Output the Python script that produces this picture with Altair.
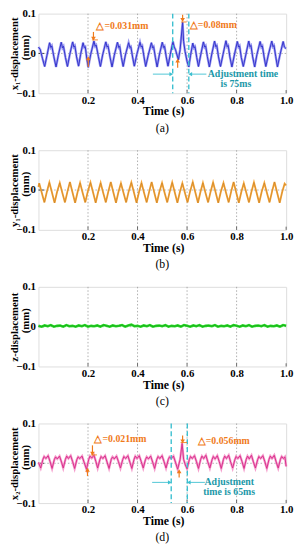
import altair as alt
import pandas as pd

FONT = "Liberation Serif"

# ---------------- data ----------------
x_ticks = [0.2, 0.4, 0.6, 0.8, 1.0]
y_ticks = [-0.1, 0.0, 0.1]
grid_x = [0.2, 0.4, 0.6, 0.8]

# (a) x1-displacement
t_a = [0.000, 0.007, 0.016, 0.025,
       0.034, 0.045, 0.050, 0.054, 0.062, 0.071,
       0.080, 0.092, 0.097, 0.101, 0.109, 0.117,
       0.126, 0.138, 0.143, 0.147, 0.154, 0.162,
       0.170, 0.180, 0.185, 0.189, 0.195, 0.201,
       0.211, 0.224, 0.229, 0.233, 0.242, 0.250,
       0.259, 0.272, 0.277, 0.281, 0.289, 0.297,
       0.306, 0.319, 0.324, 0.328, 0.335, 0.342,
       0.351, 0.364, 0.369, 0.373, 0.380, 0.387,
       0.397, 0.410, 0.415, 0.419, 0.426, 0.433,
       0.443, 0.456, 0.461, 0.465, 0.472, 0.479,
       0.488, 0.500, 0.505, 0.509, 0.516, 0.523,
       0.532, 0.543, 0.548, 0.553, 0.565,
       0.572, 0.582, 0.586, 0.592, 0.600, 0.607,
       0.614, 0.623, 0.628, 0.632, 0.639, 0.646,
       0.655, 0.666, 0.671, 0.675, 0.682, 0.690,
       0.699, 0.711, 0.716, 0.720, 0.727, 0.735,
       0.745, 0.757, 0.762, 0.766, 0.773, 0.781,
       0.791, 0.803, 0.808, 0.812, 0.819, 0.827,
       0.837, 0.849, 0.854, 0.858, 0.865, 0.873,
       0.882, 0.895, 0.900, 0.904, 0.911, 0.918,
       0.928, 0.942, 0.947, 0.951, 0.958, 0.965,
       0.975, 0.988, 0.993, 1.000]
x1_a = [0.016, 0.010, -0.012, -0.033,
        -0.006, 0.027, 0.015, 0.019, -0.008, -0.034,
        -0.005, 0.028, 0.014, 0.018, -0.010, -0.033,
        -0.004, 0.029, 0.016, 0.019, -0.009, -0.032,
        -0.003, 0.027, 0.015, 0.017, -0.012, -0.035,
        -0.002, 0.031, 0.018, 0.021, -0.008, -0.033,
        -0.004, 0.029, 0.016, 0.019, -0.009, -0.034,
        -0.005, 0.028, 0.015, 0.018, -0.010, -0.033,
        -0.004, 0.027, 0.015, 0.017, -0.009, -0.032,
        -0.003, 0.028, 0.016, 0.019, -0.008, -0.033,
        -0.005, 0.027, 0.014, 0.017, -0.010, -0.034,
        -0.004, 0.028, 0.015, 0.018, -0.009, -0.032,
        -0.003, 0.030, 0.016, 0.010, -0.016,
        0.010, 0.078, 0.030, 0.005, -0.020, -0.034,
        -0.005, 0.026, 0.014, 0.017, -0.010, -0.033,
        -0.004, 0.029, 0.016, 0.019, -0.008, -0.034,
        -0.004, 0.031, 0.017, 0.020, -0.009, -0.033,
        -0.003, 0.032, 0.017, 0.020, -0.009, -0.034,
        -0.004, 0.030, 0.016, 0.019, -0.010, -0.033,
        -0.004, 0.031, 0.017, 0.020, -0.009, -0.034,
        -0.003, 0.030, 0.016, 0.019, -0.009, -0.033,
        -0.004, 0.031, 0.017, 0.020, -0.008, -0.034,
        -0.004, 0.030, 0.016, 0.012]

# (b) y1-displacement
t_b = [0.000,
       0.003, 0.013, 0.024, 0.034,
       0.044, 0.054, 0.065, 0.075,
       0.086, 0.096, 0.107, 0.117,
       0.127, 0.137, 0.148, 0.158,
       0.168, 0.178, 0.189, 0.199,
       0.210, 0.220, 0.231, 0.241,
       0.251, 0.261, 0.272, 0.282,
       0.292, 0.302, 0.313, 0.323,
       0.333, 0.343, 0.354, 0.364,
       0.375, 0.385, 0.396, 0.406,
       0.416, 0.426, 0.437, 0.447,
       0.457, 0.467, 0.478, 0.488,
       0.499, 0.509, 0.520, 0.530,
       0.540, 0.550, 0.561, 0.571,
       0.581, 0.591, 0.602, 0.612,
       0.623, 0.633, 0.644, 0.654,
       0.664, 0.674, 0.685, 0.695,
       0.705, 0.715, 0.726, 0.736,
       0.747, 0.757, 0.768, 0.778,
       0.788, 0.798, 0.809, 0.819,
       0.829, 0.839, 0.850, 0.860,
       0.870, 0.880, 0.891, 0.901,
       0.912, 0.922, 0.933, 0.943,
       0.953, 0.963, 0.974, 0.984,
       0.994, 1.000]
y1_b = [0.008,
        0.017, -0.006, -0.031, -0.004,
        0.019, -0.005, -0.032, -0.005,
        0.018, -0.006, -0.031, -0.004,
        0.020, -0.005, -0.032, -0.005,
        0.018, -0.006, -0.031, -0.004,
        0.019, -0.005, -0.032, -0.005,
        0.018, -0.006, -0.031, -0.004,
        0.020, -0.005, -0.032, -0.005,
        0.017, -0.006, -0.031, -0.004,
        0.019, -0.005, -0.032, -0.005,
        0.018, -0.006, -0.031, -0.004,
        0.020, -0.005, -0.032, -0.005,
        0.018, -0.006, -0.031, -0.004,
        0.019, -0.005, -0.032, -0.005,
        0.017, -0.006, -0.031, -0.004,
        0.020, -0.005, -0.032, -0.005,
        0.018, -0.006, -0.031, -0.004,
        0.019, -0.005, -0.032, -0.005,
        0.018, -0.006, -0.031, -0.004,
        0.020, -0.005, -0.032, -0.005,
        0.017, -0.006, -0.031, -0.004,
        0.019, -0.005, -0.032, -0.005,
        0.018, -0.006, -0.031, -0.004,
        0.020, -0.005, -0.032, -0.005,
        0.016, 0.012]

# (c) z-displacement
t_c = [0.0000, 0.0125, 0.0250, 0.0375, 0.0500, 0.0625, 0.0750, 0.0875,
       0.1000, 0.1125, 0.1250, 0.1375, 0.1500, 0.1625, 0.1750, 0.1875,
       0.2000, 0.2125, 0.2250, 0.2375, 0.2500, 0.2625, 0.2750, 0.2875,
       0.3000, 0.3125, 0.3250, 0.3375, 0.3500, 0.3625, 0.3750, 0.3875,
       0.4000, 0.4125, 0.4250, 0.4375, 0.4500, 0.4625, 0.4750, 0.4875,
       0.5000, 0.5125, 0.5250, 0.5375, 0.5500, 0.5625, 0.5750, 0.5875,
       0.6000, 0.6125, 0.6250, 0.6375, 0.6500, 0.6625, 0.6750, 0.6875,
       0.7000, 0.7125, 0.7250, 0.7375, 0.7500, 0.7625, 0.7750, 0.7875,
       0.8000, 0.8125, 0.8250, 0.8375, 0.8500, 0.8625, 0.8750, 0.8875,
       0.9000, 0.9125, 0.9250, 0.9375, 0.9500, 0.9625, 0.9750, 0.9875,
       1.0000]
z_c = [0.002, 0.000, 0.003, 0.001, 0.004, 0.000, 0.002, 0.003,
       0.000, 0.004, 0.001, 0.002, 0.000, 0.003, 0.001, 0.004,
       0.000, 0.002, 0.001, 0.003, 0.000, 0.004, 0.002, 0.000,
       0.003, 0.001, 0.002, 0.004, 0.000, 0.003, 0.005, 0.001,
       0.002, 0.000, 0.003, 0.001, 0.004, 0.000, 0.002, 0.003,
       0.001, 0.004, 0.000, 0.002, 0.001, 0.003, 0.000, 0.004,
       0.002, 0.000, 0.003, 0.001, 0.004, 0.000, 0.002, 0.003,
       0.001, 0.004, 0.000, 0.002, 0.001, 0.003, 0.000, 0.004,
       0.002, 0.000, 0.003, 0.001, 0.004, 0.000, 0.002, 0.003,
       0.001, 0.004, 0.000, 0.002, 0.001, 0.003, 0.000, 0.004,
       0.002]

# (d) x2-displacement
t_d = [0.000,
       0.009, 0.018, 0.023, 0.030, 0.039, 0.047,
       0.055, 0.064, 0.069, 0.076, 0.085, 0.093,
       0.100, 0.109, 0.114, 0.121, 0.130, 0.138,
       0.146, 0.155, 0.160, 0.167, 0.176, 0.184,
       0.194, 0.203, 0.208, 0.215, 0.224, 0.232,
       0.239, 0.248, 0.253, 0.260, 0.269, 0.277,
       0.285, 0.294, 0.299, 0.306, 0.315, 0.323,
       0.331, 0.340, 0.345, 0.352, 0.361, 0.369,
       0.377, 0.386, 0.391, 0.398, 0.407, 0.415,
       0.423, 0.432, 0.437, 0.444, 0.453, 0.461,
       0.469, 0.478, 0.483, 0.490, 0.499, 0.507,
       0.515, 0.524, 0.529, 0.536, 0.545, 0.553,
       0.562, 0.572, 0.580, 0.586, 0.593,
       0.600, 0.609, 0.614, 0.621, 0.630, 0.638,
       0.646, 0.655, 0.660, 0.667, 0.676, 0.684,
       0.692, 0.701, 0.706, 0.713, 0.722, 0.730,
       0.738, 0.747, 0.752, 0.759, 0.768, 0.776,
       0.784, 0.793, 0.798, 0.805, 0.814, 0.822,
       0.830, 0.839, 0.844, 0.851, 0.860, 0.868,
       0.876, 0.885, 0.890, 0.897, 0.906, 0.914,
       0.922, 0.931, 0.936, 0.943, 0.952, 0.960,
       0.968, 0.977, 0.982, 0.989, 0.995, 1.000]
x2_d = [0.002,
        -0.012, 0.010, 0.017, 0.012, 0.019, 0.004,
        -0.013, 0.009, 0.016, 0.011, 0.018, 0.003,
        -0.012, 0.010, 0.018, 0.012, 0.019, 0.004,
        -0.013, 0.009, 0.016, 0.012, 0.018, 0.003,
        -0.015, 0.010, 0.018, 0.013, 0.020, 0.004,
        -0.012, 0.009, 0.017, 0.012, 0.019, 0.003,
        -0.013, 0.010, 0.016, 0.011, 0.018, 0.004,
        -0.012, 0.009, 0.017, 0.012, 0.019, 0.003,
        -0.013, 0.010, 0.018, 0.012, 0.019, 0.004,
        -0.012, 0.009, 0.016, 0.011, 0.018, 0.003,
        -0.013, 0.010, 0.017, 0.012, 0.019, 0.004,
        -0.012, 0.009, 0.016, 0.012, 0.018, 0.003,
        -0.015, 0.010, 0.050, 0.010, -0.004,
        -0.014, 0.009, 0.017, 0.012, 0.019, 0.004,
        -0.013, 0.010, 0.018, 0.012, 0.020, 0.003,
        -0.012, 0.009, 0.017, 0.011, 0.019, 0.004,
        -0.013, 0.010, 0.018, 0.012, 0.020, 0.003,
        -0.012, 0.009, 0.017, 0.012, 0.019, 0.004,
        -0.013, 0.010, 0.018, 0.011, 0.020, 0.003,
        -0.012, 0.009, 0.017, 0.012, 0.019, 0.004,
        -0.013, 0.010, 0.018, 0.012, 0.020, 0.003,
        -0.012, 0.010, 0.017, 0.012, 0.016, -0.008]

# annotations (a)
a_dash_t = [0.542, 0.607]
a_harrow_t = [0.462, 0.613]
a_harrow_t2 = [0.536, 0.678]
a_harrow_v = -0.052
a_orange_t = [0.222, 0.201, 0.582, 0.562]
a_orange_v = [0.054, -0.034, 0.097, -0.036]
a_orange_v2 = [0.040, -0.014, 0.087, -0.020]
a_heads_v = [0.037, -0.012, 0.084, -0.018]
a_level_t = [0.216, 0.576]
a_level_t2 = [0.240, 0.598]
a_level_v = [0.034, 0.079]
a_delta_labels = ["△=0.031mm", "△=0.08mm"]
a_delta_t = [0.234, 0.611]
a_delta_v = [0.068, 0.072]
a_adj_labels = ["Adjustment time", "is 75ms"]
a_adj_t = [0.683, 0.797]
a_adj_v = [-0.053, -0.077]
a_adj_align = ["left", "center"]

# annotations (d)
d_dash_t = [0.536, 0.601]
d_harrow_t = [0.459, 0.607]
d_harrow_t2 = [0.530, 0.672]
d_harrow_v = -0.048
d_orange_t = [0.218, 0.198, 0.582, 0.568]
d_orange_v = [0.045, -0.032, 0.070, -0.036]
d_orange_v2 = [0.027, -0.018, 0.058, -0.022]
d_heads_v = [0.024, -0.016, 0.055, -0.020]
d_level_t = [0.212, 0.574]
d_level_t2 = [0.236, 0.600]
d_level_v = [0.021, 0.052]
d_delta_labels = ["△=0.021mm", "△=0.056mm"]
d_delta_t = [0.226, 0.643]
d_delta_v = [0.060, 0.057]
d_adj_labels = ["Adjustment", "time is 65ms"]
d_adj_t = [0.770, 0.770]
d_adj_v = [-0.047, -0.072]
d_adj_align = ["center", "center"]

# ---------------- styling ----------------
W, H = 252, 81
ORANGE = "#f07a1a"
CYAN = "#3cc0d0"
TEAL = "#1b98a8"

XS = alt.Scale(domain=[0, 1], nice=False, zero=False)
YS = alt.Scale(domain=[-0.1, 0.1], nice=False, zero=False)

XAX = alt.Axis(values=x_ticks, format=".1f", grid=False, ticks=False, domain=False,
               labelFont=FONT, labelFontWeight="bold", labelFontSize=11, labelColor="black",
               labelPadding=1, labelFlush=False,
               title="Time (s)", titleFont=FONT, titleFontSize=12, titleFontWeight="bold",
               titleColor="black", titleX=W / 2 + 1, titleY=18, titleBaseline="middle",
               titleAlign="center")


def yaxis(line1):
    return alt.Axis(values=y_ticks, format=".1~f", grid=False, ticks=False, domain=False,
                    labelFont=FONT, labelFontWeight="bold", labelFontSize=11, labelColor="black",
                    labelPadding=3, labelFlush=False,
                    title=line1, titleFont=FONT, titleFontSize=11, titleFontWeight="bold",
                    titleColor="black", titleAngle=270, titleX=-24, titleY=H / 2,
                    titleBaseline="middle", titleAlign="center")


def panel(t, v, color, halo, lw, hw, line1, line2, caption, extra=None, lop=1.0):
    X = alt.X("t:Q", scale=XS, axis=XAX)
    Y = alt.Y("v:Q", scale=YS, axis=yaxis(line1))
    layers = []
    layers.append(alt.Chart(pd.DataFrame({"t": grid_x})).mark_rule(
        color="#9a9a9a", strokeDash=[1.5, 2], strokeWidth=0.8).encode(x=X))
    layers.append(alt.Chart(pd.DataFrame({"v": [0.0]})).mark_rule(
        color="#9a9a9a", strokeDash=[1.5, 2], strokeWidth=0.8).encode(y=Y))
    layers.append(alt.Chart(pd.DataFrame({"t": x_ticks, "v": [-0.1] * 5, "v2": [-0.092] * 5}))
                  .mark_rule(color="#444", strokeWidth=0.8).encode(x=X, y=Y, y2="v2:Q"))
    layers.append(alt.Chart(pd.DataFrame({"t": [0.0], "t2": [0.022], "v": [0.0]}))
                  .mark_rule(color="#333", strokeWidth=1).encode(x=X, x2="t2:Q", y=Y))
    df = pd.DataFrame({"t": t, "v": v, "i": list(range(len(t)))})
    layers.append(alt.Chart(df).mark_line(color=halo, strokeWidth=hw).encode(x=X, y=Y, order="i:Q"))
    layers.append(alt.Chart(df).mark_line(color=color, strokeWidth=lw, opacity=lop)
                  .encode(x=X, y=Y, order="i:Q"))
    # second line of the y title: "(mm)"
    layers.append(alt.Chart(pd.DataFrame({"label": [line2]})).mark_text(
        angle=270, font=FONT, fontWeight="bold", fontSize=11, color="black",
        align="center", baseline="middle").encode(
        x=alt.value(-13), y=alt.value(H / 2 - 6), text="label:N"))
    if extra:
        layers += extra(X, Y)
    return alt.layer(*layers).properties(
        width=W, height=H,
        title=alt.TitleParams(caption, orient="bottom", font=FONT, fontSize=12,
                              fontWeight="normal", color="black", offset=6))


def annotations(dash_t, ht, ht2, hv, ot, ov, ov2, hv_heads, lt, lt2, lv,
                dlab, dt, dv, alab, at, av, aalign):
    def build(X, Y):
        out = []
        out.append(alt.Chart(pd.DataFrame({"t": dash_t})).mark_rule(
            color=CYAN, strokeDash=[5, 3], strokeWidth=1.4).encode(x=X))
        out.append(alt.Chart(pd.DataFrame({"t": ht, "t2": ht2, "v": [hv, hv]}))
                   .mark_rule(color=CYAN, strokeWidth=0.9).encode(x=X, x2="t2:Q", y=Y))
        out.append(alt.Chart(pd.DataFrame({"t": [ht2[0]], "v": [hv]}))
                   .mark_point(shape="triangle-right", filled=True, size=18, color=CYAN, opacity=1)
                   .encode(x=X, y=Y))
        out.append(alt.Chart(pd.DataFrame({"t": [ht[1]], "v": [hv]}))
                   .mark_point(shape="triangle-left", filled=True, size=18, color=CYAN, opacity=1)
                   .encode(x=X, y=Y))
        out.append(alt.Chart(pd.DataFrame({"t": ot, "v": ov, "v2": ov2}))
                   .mark_rule(color=ORANGE, strokeWidth=1.2).encode(x=X, y=Y, y2="v2:Q"))
        out.append(alt.Chart(pd.DataFrame({"t": [ot[0], ot[2]], "v": [hv_heads[0], hv_heads[2]]}))
                   .mark_point(shape="triangle-down", filled=True, size=22, color=ORANGE, opacity=1)
                   .encode(x=X, y=Y))
        out.append(alt.Chart(pd.DataFrame({"t": [ot[1], ot[3]], "v": [hv_heads[1], hv_heads[3]]}))
                   .mark_point(shape="triangle-up", filled=True, size=22, color=ORANGE, opacity=1)
                   .encode(x=X, y=Y))
        out.append(alt.Chart(pd.DataFrame({"t": lt, "t2": lt2, "v": lv}))
                   .mark_rule(color=ORANGE, strokeWidth=0.9).encode(x=X, x2="t2:Q", y=Y))
        out.append(alt.Chart(pd.DataFrame({"t": dt, "v": dv, "label": dlab}))
                   .mark_text(align="left", baseline="middle", font=FONT, fontWeight="bold",
                              fontSize=10, color=ORANGE)
                   .encode(x=X, y=Y, text="label:N"))
        for lab, tt, vv, al in zip(alab, at, av, aalign):
            out.append(alt.Chart(pd.DataFrame({"t": [tt], "v": [vv], "label": [lab]}))
                       .mark_text(align=al, baseline="middle", font=FONT, fontWeight="bold",
                                  fontSize=10, color=TEAL)
                       .encode(x=X, y=Y, text="label:N"))
        return out
    return build


ann_a = annotations(a_dash_t, a_harrow_t, a_harrow_t2, a_harrow_v, a_orange_t, a_orange_v,
                    a_orange_v2, a_heads_v, a_level_t, a_level_t2, a_level_v,
                    a_delta_labels, a_delta_t, a_delta_v, a_adj_labels, a_adj_t, a_adj_v, a_adj_align)
ann_d = annotations(d_dash_t, d_harrow_t, d_harrow_t2, d_harrow_v, d_orange_t, d_orange_v,
                    d_orange_v2, d_heads_v, d_level_t, d_level_t2, d_level_v,
                    d_delta_labels, d_delta_t, d_delta_v, d_adj_labels, d_adj_t, d_adj_v, d_adj_align)

pa = panel(t_a, x1_a, "#3434cc", "#9c9cf0", 1.0, 2.4, "x\u2081-displacement", "(mm)", "(a)", ann_a)
pb = panel(t_b, y1_b, "#8a5218", "#f7a83c", 0.5, 1.9, "y\u2081-displacement", "(mm)", "(b)", lop=0.55)
pc = panel(t_c, z_c, "#1e6a1e", "#22e022", 0.5, 2.6, "z-displacement", "(mm)", "(c)")
pd_ = panel(t_d, x2_d, "#d8308c", "#f59ccc", 1.0, 2.4, "x\u2082-displacement", "(mm)", "(d)", ann_d)

chart = alt.vconcat(pa, pb, pc, pd_, spacing=9).properties(
    padding={"left": 0, "top": -6, "right": 0, "bottom": 0}
).configure_view(stroke="#808080", strokeWidth=1).configure(background="white")

chart.save("out.html", embed_options={"renderer": "svg", "actions": False})
